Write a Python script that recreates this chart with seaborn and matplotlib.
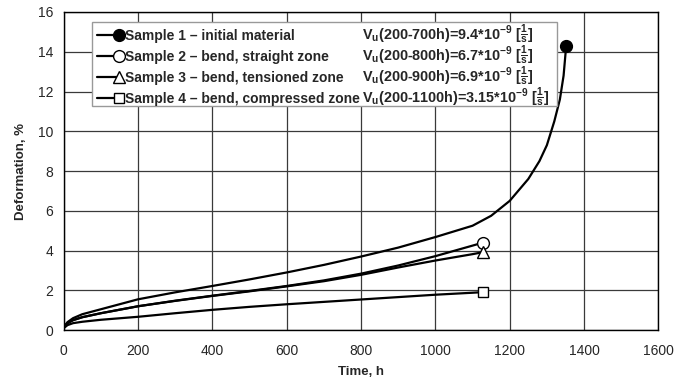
import pandas as pd
import matplotlib
matplotlib.use('Agg')
import matplotlib.pyplot as plt
import seaborn as sns
from matplotlib.lines import Line2D
from matplotlib.legend_handler import HandlerLine2D
from matplotlib.patches import Rectangle

# ---- data ----
t1 = [0, 10, 25, 50, 100, 200, 300, 400, 500, 600, 700, 800, 900, 1000, 1100, 1150, 1200, 1250, 1280, 1300, 1320, 1335, 1345, 1352]
d1 = [0.15, 0.4, 0.6, 0.8, 1.05, 1.55, 1.9, 2.22, 2.55, 2.9, 3.28, 3.7, 4.15, 4.68, 5.25, 5.75, 6.5, 7.6, 8.5, 9.3, 10.5, 11.6, 12.8, 14.3]

t2 = [0, 10, 25, 50, 100, 200, 300, 400, 500, 600, 700, 800, 900, 1000, 1100, 1128]
d2 = [0.15, 0.35, 0.5, 0.65, 0.85, 1.2, 1.48, 1.73, 1.97, 2.22, 2.5, 2.84, 3.25, 3.72, 4.25, 4.4]

t3 = [0, 10, 25, 50, 100, 200, 300, 400, 500, 600, 700, 800, 900, 1000, 1100, 1128]
d3 = [0.15, 0.35, 0.5, 0.65, 0.85, 1.2, 1.47, 1.72, 1.95, 2.2, 2.46, 2.78, 3.15, 3.5, 3.82, 3.92]

t4 = [0, 10, 25, 50, 100, 200, 300, 400, 500, 600, 700, 800, 900, 1000, 1100, 1128]
d4 = [0.1, 0.25, 0.35, 0.42, 0.52, 0.67, 0.85, 1.02, 1.17, 1.3, 1.42, 1.54, 1.66, 1.78, 1.88, 1.91]

names = ['Sample 1 \u2013 initial material',
         'Sample 2 \u2013 bend, straight zone',
         'Sample 3 \u2013 bend, tensioned zone',
         'Sample 4 \u2013 bend, compressed zone']
rates = [r'V$_{u}$(200-700h)=9.4*10$^{-9}$ [$\frac{1}{s}$]',
         r'V$_{u}$(200-800h)=6.7*10$^{-9}$ [$\frac{1}{s}$]',
         r'V$_{u}$(200-900h)=6.9*10$^{-9}$ [$\frac{1}{s}$]',
         r'V$_{u}$(200-1100h)=3.15*10$^{-9}$ [$\frac{1}{s}$]']

markers = ['o', 'o', '^', 's']
faces = ['black', 'white', 'white', 'white']
msizes = [8.5, 8.5, 8, 7]


class EndMarker(HandlerLine2D):
    # line on the left, marker at the right end of the handle
    def create_artists(self, legend, orig_handle, xdescent, ydescent,
                       width, height, fontsize, trans):
        arts = super().create_artists(legend, orig_handle, xdescent, ydescent,
                                      width, height, fontsize, trans)
        arts[0].set_markevery([len(arts[0].get_xdata()) - 1])
        return arts


sns.set_style('white')
plt.rcParams['font.family'] = ['Liberation Sans', 'DejaVu Sans']
plt.rcParams['mathtext.fontset'] = 'custom'
plt.rcParams['mathtext.rm'] = 'Liberation Sans:bold'
plt.rcParams['mathtext.it'] = 'Liberation Sans:bold'
plt.rcParams['mathtext.bf'] = 'Liberation Sans:bold'
plt.rcParams['mathtext.default'] = 'rm'

fig = plt.figure(figsize=(6.93, 3.87), dpi=100)
ax = fig.add_axes([0.092, 0.147, 0.858, 0.822])

series = [(t1, d1), (t2, d2), (t3, d3), (t4, d4)]
handles = []
for (t, d), name, m, fc, ms in zip(series, names, markers, faces, msizes):
    df = pd.DataFrame({'Time': t, 'Deformation': d})
    sns.lineplot(data=df, x='Time', y='Deformation', ax=ax, color='black', lw=1.6,
                 marker=m, markevery=[len(t) - 1], markersize=ms,
                 markerfacecolor=fc, markeredgecolor='black', markeredgewidth=1.0,
                 zorder=3)
    handles.append(Line2D([], [], color='black', lw=1.6, marker=m, markersize=ms,
                          markerfacecolor=fc, markeredgecolor='black',
                          markeredgewidth=1.0))

ax.set_xlim(0, 1600)
ax.set_ylim(0, 16)
ax.set_xticks(range(0, 1601, 200))
ax.set_yticks(range(0, 17, 2))
ax.grid(True, color='#3a3a3a', lw=0.9)
for s in ax.spines.values():
    s.set_color('black')
    s.set_linewidth(1.0)
ax.tick_params(axis='both', labelsize=10, direction='out', length=4, width=1, color='black')
ax.tick_params(axis='x', pad=6)
ax.set_xlabel('Time, h', fontsize=9.5, fontweight='bold', labelpad=6)
ax.set_ylabel('Deformation, %', fontsize=9.5, fontweight='bold', labelpad=8)

FS = 10
leg = ax.legend(handles, names, loc='upper left', bbox_to_anchor=(0.047, 0.965),
                borderaxespad=0, prop={'weight': 'bold', 'size': FS},
                handlelength=1.6, handletextpad=0.4, labelspacing=0.5,
                frameon=False, borderpad=0.4,
                handler_map={Line2D: EndMarker()})
leg.set_zorder(6)

# second text column (rates) next to the legend rows, then a common frame
fig.canvas.draw()
r = fig.canvas.get_renderer()
inv = ax.transAxes.inverted()
name_right = max(t.get_window_extent(r).x1 for t in leg.get_texts())
rate_texts = []
baselines = []
for t, rate in zip(leg.get_texts(), rates):
    bx, by = t.get_transform().transform(t.get_position())
    baselines.append(by)
    ax_x, ax_y = inv.transform((name_right + 2, by))
    rt = ax.text(ax_x, ax_y, rate, transform=ax.transAxes, fontsize=10.4,
                 fontweight='bold', va='baseline', ha='left', zorder=6)
    rate_texts.append(rt)

fig.canvas.draw()
lb = leg.get_window_extent(r)
cap = 0.72 * FS * fig.dpi / 72
right = max(rt.get_window_extent(r).x1 for rt in rate_texts) + 8
top = baselines[0] + cap + 8
bottom = baselines[-1] - 3
(x0, y0), (x1, y1) = inv.transform([(lb.x0, bottom), (right, top)])
frame = Rectangle((x0, y0), x1 - x0, y1 - y0, transform=ax.transAxes,
                  facecolor='white', edgecolor='#999999', lw=1.0, zorder=5)
ax.add_patch(frame)

plt.savefig('out.png', dpi=100)
plt.close()
